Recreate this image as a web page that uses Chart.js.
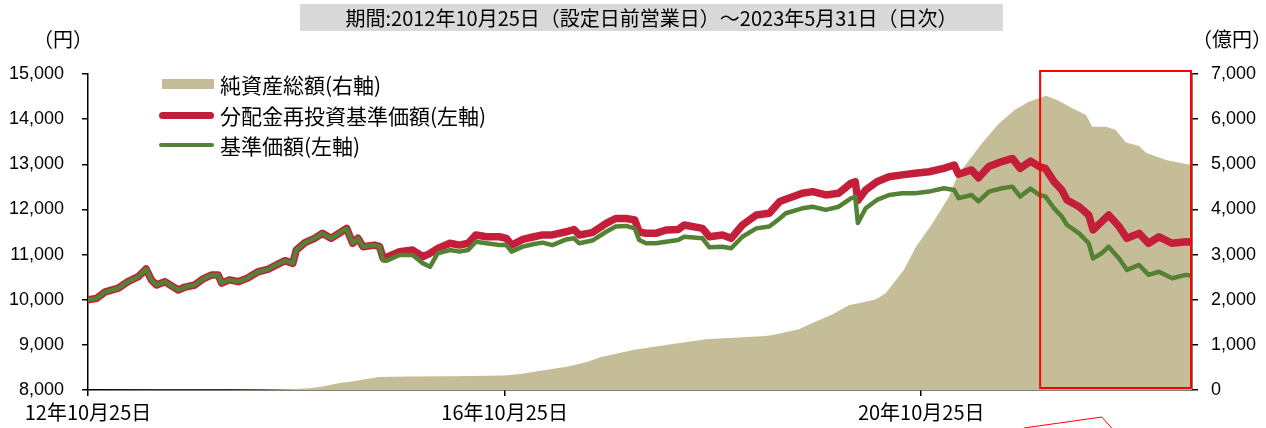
<!DOCTYPE html>
<html><head><meta charset="utf-8">
<script src="https://cdn.jsdelivr.net/npm/chart.js@4"></script>
<style>
html,body{margin:0;padding:0;background:#fff;}
#wrap{position:relative;width:1266px;height:428px;overflow:hidden;font-family:"Noto Sans CJK JP","Liberation Sans",sans-serif;color:#000;}
#c{position:absolute;left:0;top:0;}
.t{position:absolute;white-space:nowrap;}
#title{left:300px;top:4px;width:703px;height:27px;background:#d9d9d9;font-size:20px;line-height:27px;text-align:center;}
.unit{font-size:20px;top:27px;line-height:24px;}
.lg{position:absolute;left:159px;height:26px;display:flex;align-items:center;font-size:21px;white-space:nowrap;}
.sw{display:inline-block;width:55px;margin-right:6px;}
</style></head>
<body>
<div id="wrap">
<canvas id="c" width="1266" height="428"></canvas>
<div id="title" class="t">期間:2012年10月25日（設定日前営業日）～2023年5月31日（日次）</div>
<div class="t unit" style="left:33px;">（円）</div>
<div class="t unit" style="left:1192px;">（億円）</div>
<div class="lg" style="top:71px;"><span class="sw" style="height:10px;background:#c4bd97;margin-left:3px;width:52px;"></span>純資産総額(右軸)</div>
<div class="lg" style="top:102px;"><span class="sw" style="height:7px;background:#c41e3a;border-radius:4px;"></span>分配金再投資基準価額(左軸)</div>
<div class="lg" style="top:132px;"><span class="sw" style="height:4px;background:#548235;border-radius:2px;"></span>基準価額(左軸)</div>
</div>
<script>
// x values: months elapsed since 2012-10-25
const lineMonths = [
  0,1,2,3.5,4.6,5.8,6.7,7.3,7.9,8.85,
  10.4,11.2,12.3,13.2,14.2,15,15.4,16.3,17.3,18.4,
  19.6,20.7,21.9,22.7,23.6,24,25,26.1,27,28,
  29.2,29.8,30.5,31.1,31.7,33,33.6,34,34.4,35.9,
  37.4,38.6,39.4,40.3,41.7,42.8,43.8,44.7,45.9,47.4,
  48.2,48.8,50.1,51.4,52.4,53.5,55.1,56,56.6,58.1,
  59.7,60.8,62,63,63.5,64.3,65.4,66.6,68,68.7,
  70.8,71.6,73.1,74.1,75.4,77,78.5,79.7,80.4,82.3,
  83.5,85,86.5,87.9,88.4,88.7,89.6,90.9,92.3,93.8,
  95.3,96.9,98.6,99.8,100.3,101.8,102.6,103.8,105.3,106.5,
  107.4,108.6,109.6,110.3,111.3,112.2,112.8,114.2,115.3,115.8,
  116.8,117.6,118.8,119.7,121.1,122.2,123.4,124.9,126.5,127.2
];
// 分配金再投資基準価額 (円)
const reinvestedNav = [
  10000,10030,10175,10255,10400,10510,10680,10440,10325,10400,
  10215,10280,10325,10455,10545,10545,10370,10440,10400,10480,
  10620,10670,10790,10865,10805,11100,11265,11360,11470,11360,
  11505,11580,11250,11360,11175,11210,11175,10920,10940,11065,
  11100,10955,11025,11135,11250,11210,11250,11435,11395,11395,
  11360,11210,11335,11395,11435,11435,11505,11555,11435,11485,
  11690,11800,11800,11765,11505,11470,11470,11545,11555,11655,
  11580,11395,11435,11360,11655,11875,11915,12175,12225,12360,
  12395,12320,12360,12580,12615,12200,12430,12615,12725,12765,
  12800,12835,12910,12985,12780,12875,12700,12950,13060,13130,
  12910,13070,12950,12910,12615,12430,12210,12060,11875,11545,
  11730,11875,11620,11360,11470,11250,11395,11250,11285,11280
];
// 基準価額 (円)
const nav = [
  10000,10030,10175,10255,10400,10510,10680,10440,10325,10400,
  10215,10280,10325,10455,10545,10545,10370,10440,10400,10480,
  10620,10670,10790,10865,10805,11100,11265,11360,11470,11360,
  11505,11580,11250,11360,11175,11210,11175,10870,10865,10990,
  10990,10805,10730,11030,11100,11065,11100,11285,11250,11210,
  11210,11065,11175,11235,11265,11210,11335,11360,11250,11310,
  11505,11620,11635,11580,11325,11250,11250,11285,11325,11395,
  11360,11160,11175,11140,11395,11580,11620,11800,11915,12025,
  12060,11990,12060,12245,12280,11700,12025,12210,12320,12360,
  12360,12395,12470,12430,12250,12320,12180,12395,12470,12505,
  12285,12460,12320,12290,12025,11840,11655,11470,11250,10915,
  11030,11175,10915,10660,10770,10550,10620,10475,10550,10530
];
// 純資産総額 (億円)
const assetMonths = [0,8,16,20,24,25.5,27,29.2,30.6,32.3,33.5,36.9,42,48,50,52,55.3,57.5,59,62.8,66.6,71.2,78.1,78.9,81.9,83.4,85.8,87.7,88.8,90.8,91.9,93.1,94,95.4,97.3,99.2,100.3,101.1,103,104.9,106.8,108.4,110.4,111.9,113.4,115,115.7,117.3,118.4,119.6,121.1,121.9,124.2,126.5,127.2];
const totalAssets = [2,4,8,12,20,40,80,160,195,250,290,300,305,320,360,420,520,620,724,886,997,1123,1196,1218,1344,1477,1677,1883,1920,2009,2142,2437,2658,3175,3693,4282,4800,4984,5465,5890,6210,6387,6520,6400,6240,6092,5834,5834,5760,5480,5405,5257,5095,5007,4985];

const xTickMonths = [0,48,96];
const xTickLabels = ['12年10月25日','16年10月25日','20年10月25日'];
const endMonth = 127.2;
const highlightStartMonth = 109.7;
const highlightMidMonth = 116.8;

const toPts = (xs, ys) => xs.map((x,i)=>({x:x,y:ys[i]}));

const highlightPlugin = {
  id:'highlight',
  afterDatasetsDraw(chart){
    const {ctx, chartArea, scales} = chart;
    const x0 = scales.x.getPixelForValue(highlightStartMonth);
    const x1 = chartArea.right - 1;
    const y0 = chartArea.top - 3;
    const y1 = chartArea.bottom - 2;
    ctx.save();
    ctx.strokeStyle = '#ff0000';
    ctx.lineWidth = 2;
    ctx.strokeRect(x0, y0, x1 - x0, y1 - y0);
    const xm = scales.x.getPixelForValue(highlightMidMonth);
    ctx.lineWidth = 1;
    ctx.beginPath();
    ctx.moveTo(x0 - 16, chart.height);
    ctx.lineTo(xm, chartArea.bottom + 27);
    ctx.lineTo(xm + 10, chart.height);
    ctx.stroke();
    ctx.restore();
  }
};

new Chart(document.getElementById('c'), {
  type:'line',
  data:{
    datasets:[
      {label:'基準価額(左軸)', data:toPts(lineMonths, nav), yAxisID:'y', borderColor:'#548235', borderWidth:4.5, pointRadius:0, tension:0, order:1, fill:false, borderJoinStyle:'round', borderCapStyle:'round'},
      {label:'分配金再投資基準価額(左軸)', data:toPts(lineMonths, reinvestedNav), yAxisID:'y', borderColor:'#c41e3a', borderWidth:7.5, pointRadius:0, tension:0, order:2, fill:false, borderJoinStyle:'round', borderCapStyle:'round'},
      {label:'純資産総額(右軸)', data:toPts(assetMonths, totalAssets), yAxisID:'y2', borderWidth:0, borderColor:'rgba(0,0,0,0)', backgroundColor:'#c4bd97', fill:'origin', pointRadius:0, tension:0, order:3}
    ]
  },
  options:{
    responsive:false, animation:false, events:[],
    layout:{padding:{top:74,left:0,right:0,bottom:0}},
    plugins:{legend:{display:false}, tooltip:{enabled:false}},
    scales:{
      x:{type:'linear', min:0, max:endMonth,
        afterBuildTicks(s){ s.ticks = xTickMonths.map(v=>({value:v})); },
        afterFit(s){ s.height = 38; },
        ticks:{autoSkip:false, maxRotation:0, padding:4, color:'#000', font:{family:'"Noto Sans CJK JP"', size:20},
          callback(v){ const i = xTickMonths.indexOf(v); return i>=0 ? xTickLabels[i] : ''; }},
        grid:{display:true, drawOnChartArea:false, drawTicks:true, tickLength:6, color:'#000', lineWidth:1.5},
        border:{display:true, color:'#000', width:1.5}
      },
      y:{position:'left', min:8000, max:15000,
        afterFit(s){ s.width = 88; },
        ticks:{stepSize:1000, padding:18, color:'#000', font:{family:'"Liberation Sans"', size:18},
          callback(v){ return v.toLocaleString('en-US'); }},
        grid:{display:true, drawOnChartArea:false, drawTicks:true, tickLength:6, color:'#000', lineWidth:1.5},
        border:{display:true, color:'#000', width:1.5}
      },
      y2:{position:'right', min:0, max:7000,
        afterFit(s){ s.width = 74; },
        ticks:{stepSize:1000, padding:13, color:'#000', font:{family:'"Liberation Sans"', size:18},
          callback(v){ return v.toLocaleString('en-US'); }},
        grid:{display:true, drawOnChartArea:false, drawTicks:true, tickLength:6, color:'#000', lineWidth:1.5},
        border:{display:true, color:'#000', width:1.5}
      }
    }
  },
  plugins:[highlightPlugin]
});
</script>
</body></html>
